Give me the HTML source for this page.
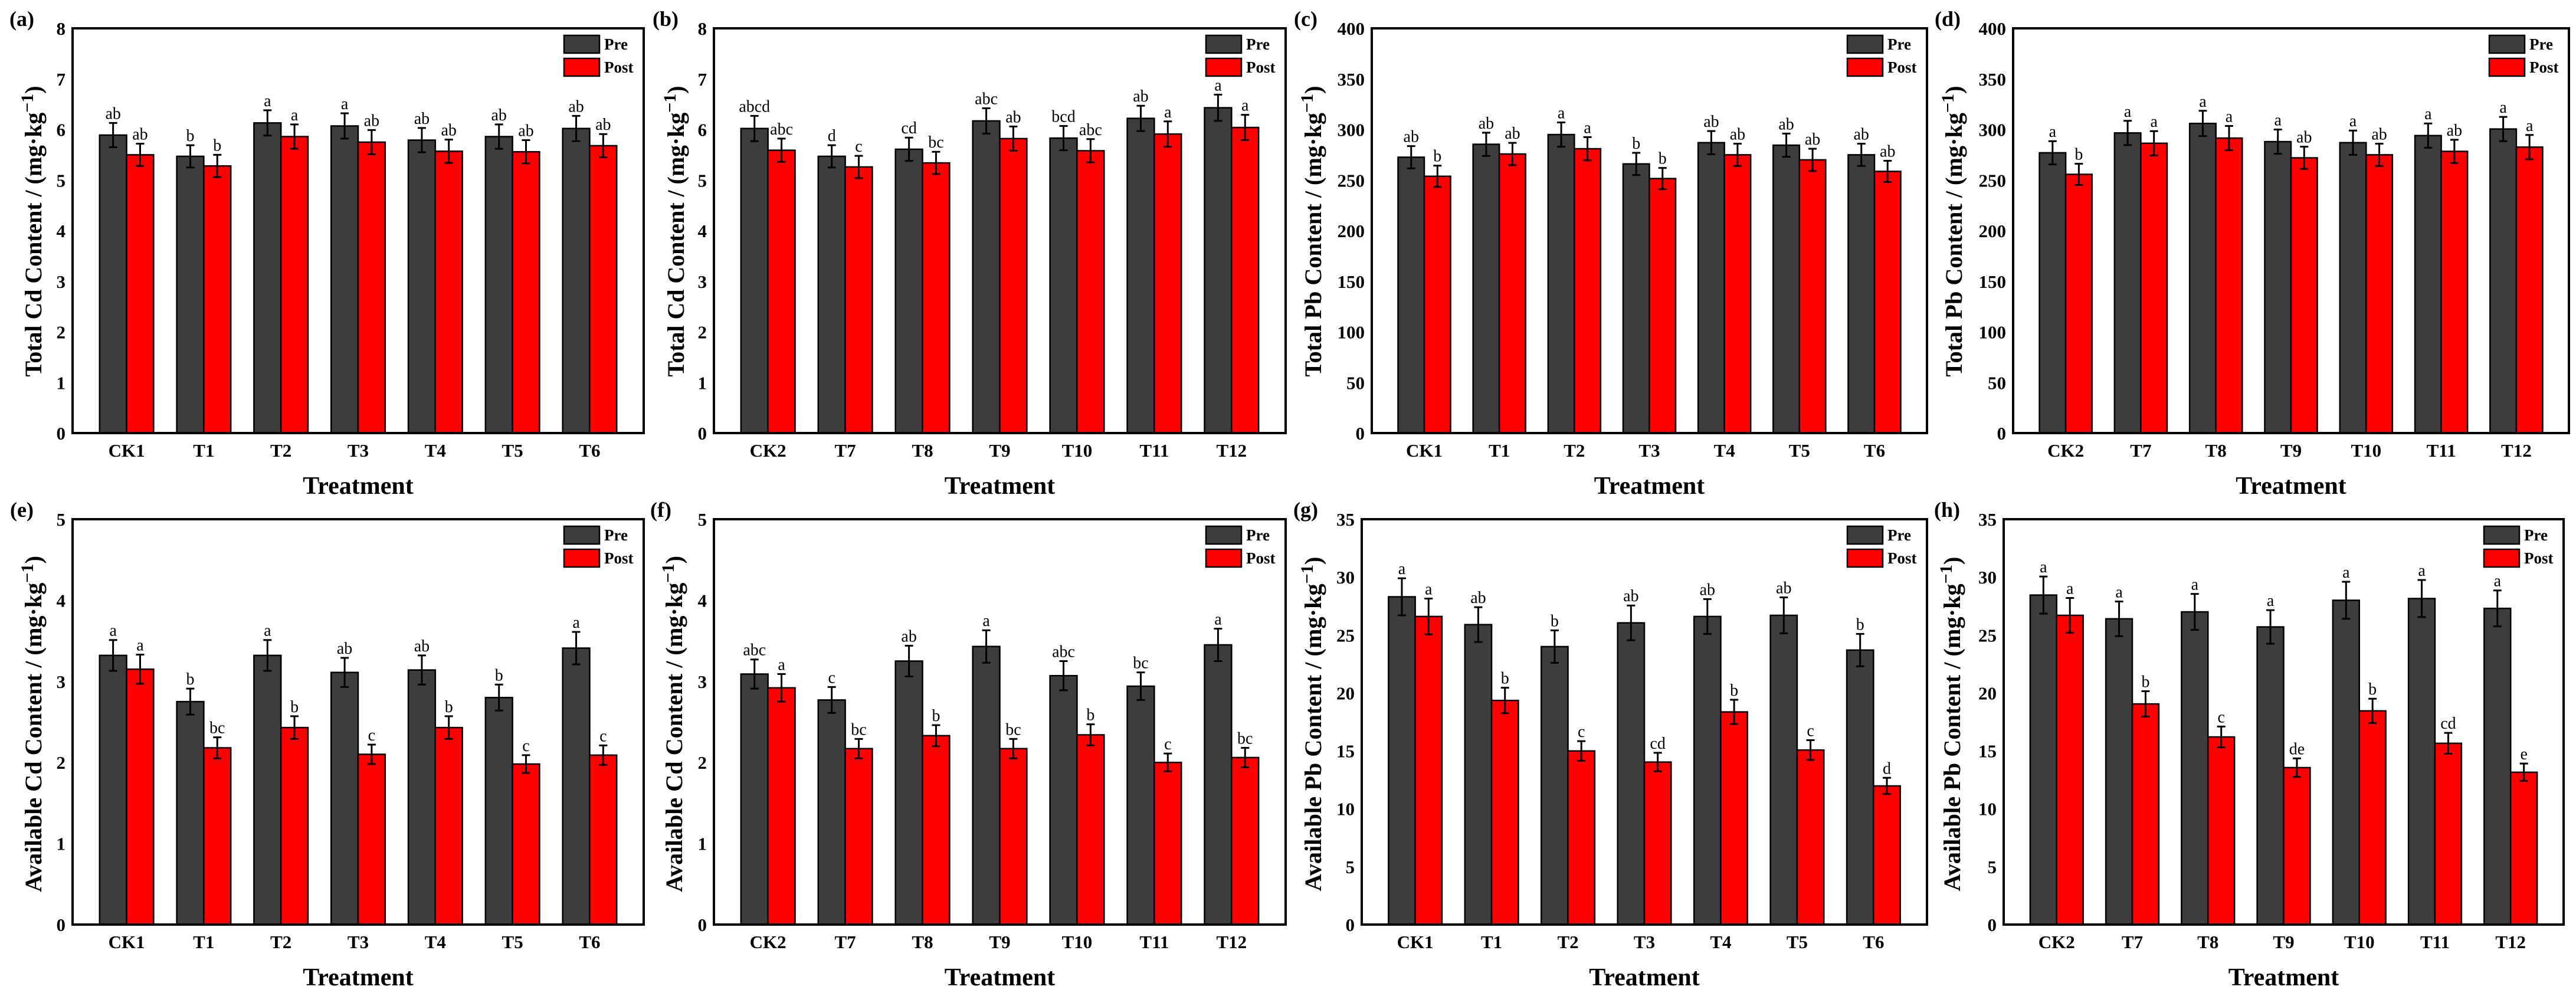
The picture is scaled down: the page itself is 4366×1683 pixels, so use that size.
<!DOCTYPE html>
<html><head><meta charset="utf-8">
<style>
html,body{margin:0;padding:0;background:#fff;}
svg{display:block;font-family:"Liberation Serif","Times New Roman",serif;}
</style></head>
<body>
<svg id="fig" width="4366" height="1683" viewBox="0 0 4366 1683" xmlns="http://www.w3.org/2000/svg"></svg>
<script>
// ---------- data ----------
const catsA = ["CK1","T1","T2","T3","T4","T5","T6"];
const catsB = ["CK2","T7","T8","T9","T10","T11","T12"];

const preA = [5.89,5.47,6.13,6.07,5.79,5.86,6.02];
const postA = [5.50,5.28,5.86,5.75,5.57,5.56,5.68];
const preErrA = [0.24,0.22,0.25,0.25,0.24,0.24,0.25];
const postErrA = [0.22,0.22,0.24,0.24,0.23,0.23,0.23];
const preLetA = ["ab","b","a","a","ab","ab","ab"];
const postLetA = ["ab","b","a","ab","ab","ab","ab"];

const preB = [6.02,5.47,5.61,6.17,5.83,6.22,6.43];
const postB = [5.59,5.26,5.34,5.82,5.58,5.91,6.04];
const preErrB = [0.25,0.22,0.23,0.25,0.24,0.25,0.26];
const postErrB = [0.23,0.22,0.22,0.24,0.23,0.25,0.25];
const preLetB = ["abcd","d","cd","abc","bcd","ab","a"];
const postLetB = ["abc","c","bc","ab","abc","a","a"];

const preC = [272.6,285.4,295,266,287,284.5,275];
const postC = [253.8,275.8,281,251.5,275,270,258.6];
const preErrC = [11,11.5,12,11,11.5,11.5,11];
const postErrC = [10.5,11,11.5,10.5,11,11,10.5];
const preLetC = ["ab","ab","a","b","ab","ab","ab"];
const postLetC = ["b","ab","a","b","ab","ab","ab"];

const preD = [277,296.6,306,288,287,294,300.5];
const postD = [255.7,286.4,291.5,272,275,278.4,282.6];
const preErrD = [11.5,12,12.5,12,12,12,12];
const postErrD = [10.5,12,12,11,11,11.5,12];
const preLetD = ["a","a","a","a","a","a","a"];
const postLetD = ["b","a","a","ab","ab","ab","a"];

const preE = [3.32,2.75,3.32,3.11,3.14,2.80,3.41];
const postE = [3.15,2.18,2.43,2.10,2.43,1.98,2.09];
const preErrE = [0.19,0.16,0.19,0.18,0.18,0.16,0.20];
const postErrE = [0.18,0.13,0.14,0.12,0.14,0.11,0.12];
const preLetE = ["a","b","a","ab","ab","b","a"];
const postLetE = ["a","bc","b","c","b","c","c"];

const preF = [3.09,2.77,3.25,3.43,3.07,2.94,3.45];
const postF = [2.92,2.17,2.33,2.17,2.34,2.00,2.06];
const preErrF = [0.18,0.16,0.19,0.20,0.18,0.17,0.20];
const postErrF = [0.17,0.12,0.13,0.12,0.13,0.11,0.12];
const preLetF = ["abc","c","ab","a","abc","bc","a"];
const postLetF = ["a","bc","b","bc","b","c","bc"];

const preG = [28.3,25.9,24.0,26.05,26.6,26.7,23.7];
const postG = [26.6,19.35,14.99,14.03,18.36,15.07,11.97];
const preErrG = [1.6,1.5,1.4,1.5,1.5,1.55,1.4];
const postErrG = [1.55,1.1,0.85,0.8,1.05,0.85,0.7];
const preLetG = ["a","ab","b","ab","ab","ab","b"];
const postLetG = ["a","b","c","cd","b","c","d"];

const preH = [28.45,26.4,27.0,25.7,28.0,28.15,27.3];
const postH = [26.7,19.05,16.2,13.55,18.45,15.65,13.15];
const preErrH = [1.6,1.5,1.55,1.45,1.6,1.6,1.55];
const postErrH = [1.5,1.1,0.9,0.8,1.05,0.9,0.75];
const preLetH = ["a","a","a","a","a","a","a"];
const postLetH = ["a","b","c","de","b","cd","e"];

const ticksCd8 = [0,1,2,3,4,5,6,7,8];
const ticksPb400 = [0,50,100,150,200,250,300,350,400];
const ticksCd5 = [0,1,2,3,4,5];
const ticksPb35 = [0,5,10,15,20,25,30,35];

const legendLabels = ["Pre","Post"];

// ---------- drawing ----------
const NS = "http://www.w3.org/2000/svg";
const svg = document.getElementById("fig");
function mk(tag, attrs, parent){
  const e = document.createElementNS(NS, tag);
  for (const k in attrs) e.setAttribute(k, attrs[k]);
  (parent||svg).appendChild(e);
  return e;
}

const panels = [
 {id:"a", L:123, R:1091, T:48, B:734, ymax:8, ticks:ticksCd8, cats:catsA, pre:preA, post:postA, pe:preErrA, qe:postErrA, pl:preLetA, ql:postLetA, title:"Total Cd Content / (mg·kg", tx:56, tcy:392, tlen:493, lx:37, ly:32},
 {id:"b", L:1210, R:2179, T:48, B:734, ymax:8, ticks:ticksCd8, cats:catsB, pre:preB, post:postB, pe:preErrB, qe:postErrB, pl:preLetB, ql:postLetB, title:"Total Cd Content / (mg·kg", tx:1145, tcy:392, tlen:493, lx:1128, ly:32},
 {id:"c", L:2325, R:3266, T:48, B:734, ymax:400, ticks:ticksPb400, cats:catsA, pre:preC, post:postC, pe:preErrC, qe:postErrC, pl:preLetC, ql:postLetC, title:"Total Pb Content / (mg·kg", tx:2225, tcy:392, tlen:493, lx:2213, ly:32},
 {id:"d", L:3412, R:4354, T:48, B:734, ymax:400, ticks:ticksPb400, cats:catsB, pre:preD, post:postD, pe:preErrD, qe:postErrD, pl:preLetD, ql:postLetD, title:"Total Pb Content / (mg·kg", tx:3311, tcy:392, tlen:493, lx:3301, ly:32},
 {id:"e", L:123, R:1091, T:880, B:1567, ymax:5, ticks:ticksCd5, cats:catsA, pre:preE, post:postE, pe:preErrE, qe:postErrE, pl:preLetE, ql:postLetE, title:"Available Cd Content / (mg·kg", tx:56, tcy:1227, tlen:570, lx:37, ly:864},
 {id:"f", L:1210, R:2179, T:880, B:1567, ymax:5, ticks:ticksCd5, cats:catsB, pre:preF, post:postF, pe:preErrF, qe:postErrF, pl:preLetF, ql:postLetF, title:"Available Cd Content / (mg·kg", tx:1142, tcy:1227, tlen:570, lx:1120, ly:864},
 {id:"g", L:2308, R:3266, T:880, B:1567, ymax:35, ticks:ticksPb35, cats:catsA, pre:preG, post:postG, pe:preErrG, qe:postErrG, pl:preLetG, ql:postLetG, title:"Available Pb Content / (mg·kg", tx:2225, tcy:1227, tlen:567, lx:2213, ly:864},
 {id:"h", L:3396, R:4345, T:880, B:1567, ymax:35, ticks:ticksPb35, cats:catsB, pre:preH, post:postH, pe:preErrH, qe:postErrH, pl:preLetH, ql:postLetH, title:"Available Pb Content / (mg·kg", tx:3308, tcy:1227, tlen:567, lx:3300, ly:864}
];

panels.forEach(p => {
  const g = mk("g", {});
  
  
  const xs = v => p.L + (v - 0.3) / 7.4 * (p.R - p.L);
  const ys = v => p.B - v / p.ymax * (p.B - p.T);
  const unit = (p.R - p.L) / 7.4;
  const bw = 0.35 * unit;

  // panel label
  const pl = mk("text", {x:p.lx, y:p.ly+12, "text-anchor":"middle", "font-size":"36", "font-weight":"bold"}, g);
  pl.textContent = "(" + p.id + ")";
  
  

  // y ticks labels
  p.ticks.forEach(t => {
    const tl = mk("text", {x:p.L-12, y:ys(t)+11, "text-anchor":"end", "font-size":"31", "font-weight":"bold"}, g);
    tl.textContent = t;
    
    
  });

  // bars
  p.cats.forEach((c, i) => {
    const cx = xs(i + 1);
    const series = [[p.pre[i], p.pe[i], p.pl[i], "#3d3d3d", -1, "pre"], [p.post[i], p.qe[i], p.ql[i], "#ff0000", 0, "post"]];
    series.forEach(s => {
      const x0 = cx + s[4] * bw;
      const r = mk("rect", {x:x0, y:ys(s[0]), width:bw, height:p.B - ys(s[0]), fill:s[3], stroke:"#000", "stroke-width":"2.5"}, g);
      
      
      const mx = x0 + bw / 2;
      const yt = ys(s[0] + s[1]), yb = ys(s[0] - s[1]);
      const eb = mk("path", {d:`M${mx},${yt}V${yb}M${mx-7},${yt}H${mx+7}M${mx-7},${yb}H${mx+7}`, stroke:"#000", "stroke-width":"3", fill:"none"}, g);
      
      
      const lt = mk("text", {x:mx, y:yt-7, "text-anchor":"middle", "font-size":"28"}, g);
      lt.textContent = s[2];
      
      
    });
    const xl = mk("text", {x:cx, y:p.B+40, "text-anchor":"middle", "font-size":"31", "font-weight":"bold"}, g);
    xl.textContent = c;
    
    
  });

  // frame
  const fr = mk("rect", {x:p.L, y:p.T, width:p.R-p.L, height:p.B-p.T, fill:"none", stroke:"#000", "stroke-width":"4"}, g);
  
  

  // x title
  const xt = mk("text", {x:(p.L+p.R)/2, y:p.B+103, "text-anchor":"middle", "font-size":"42", "font-weight":"bold"}, g);
  xt.textContent = "Treatment";
  
  

  // y title
  const yt = mk("text", {x:0, y:0, "text-anchor":"middle", "font-size":"40", "font-weight":"bold", transform:`translate(${p.tx+14},${p.tcy}) rotate(-90)`, textLength:p.tlen, lengthAdjust:"spacingAndGlyphs"}, g);
  yt.appendChild(document.createTextNode(p.title));
  const sup = mk("tspan", {dy:"-14", "font-size":"30"}, yt);
  sup.textContent = "−1";
  const cl = mk("tspan", {dy:"14"}, yt);
  cl.textContent = ")";
  
  

  // legend
  const colors = ["#3d3d3d", "#ff0000"];
  legendLabels.forEach((lab, k) => {
    const by = p.T + 12 + k * 39;
    const lg = mk("g", {}, g);
    
    
    mk("rect", {x:p.R-135, y:by, width:60, height:30, fill:colors[k], stroke:"#000", "stroke-width":"2.5"}, lg);
    const tx = mk("text", {x:p.R-67, y:by+24, "font-size":"27", "font-weight":"bold"}, lg);
    tx.textContent = lab;
  });
});
</script>
</body></html>
